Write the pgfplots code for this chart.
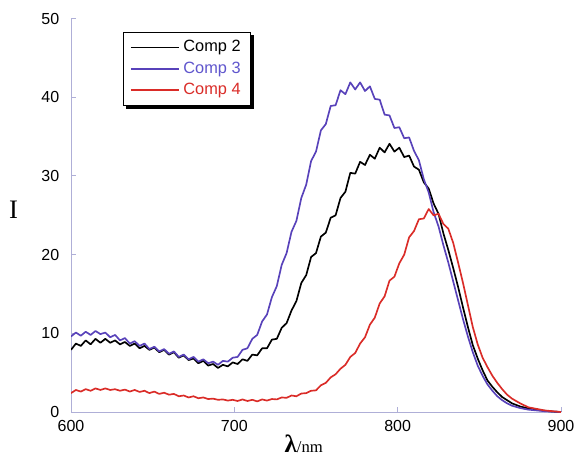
\documentclass[border=0pt]{standalone}
\usepackage{pgfplots}
\pgfplotsset{compat=1.18}
\usepackage{fontspec}
\setmainfont{Liberation Sans}
\newfontfamily\seriffont{Liberation Serif}
\definecolor{cblue}{RGB}{88,66,186}
\definecolor{cred}{RGB}{218,44,40}
\definecolor{caxis}{RGB}{175,175,215}
\definecolor{lblue}{RGB}{95,85,205}
\begin{document}
\begin{tikzpicture}
\begin{axis}[
  scale only axis,
  width=294pt, height=236pt,
  xmin=600, xmax=900, ymin=0, ymax=50,
  axis x line=bottom, axis y line=left,
  axis line style={-, draw=caxis, line width=0.6pt},
  xtick={600,700,800,900},
  ytick={0,10,20,30,40,50},
  tick align=inside,
  major tick length=3pt,
  tick style={draw=caxis, line width=0.6pt},
  ticklabel style={font=\fontsize{9.6}{11}\selectfont},
  /pgf/number format/assume math mode=true,
  yticklabel style={xshift=-3.5pt},
  xticklabel style={yshift=-1.5pt},
  xlabel={{\seriffont\fontsize{15}{16}\selectfont\bfseries λ}{\seriffont\fontsize{10}{12}\selectfont/nm}},
  xlabel style={at={(axis description cs:0.475,-0.058)}, anchor=north, inner sep=0pt},
  ylabel={{\seriffont\fontsize{16}{18}\selectfont I}},
  ylabel style={at={(axis description cs:-0.117,0.514)}, anchor=center, rotate=-90, inner sep=0pt},
  legend style={name=leg, at={(axis description cs:0.106,0.967)}, anchor=north west,
    draw=black, line width=0.6pt, fill=white,
    font=\fontsize{9.8}{10.5}\selectfont, row sep=0.5pt, inner xsep=4pt, inner ysep=3pt},
  legend cell align=left,
  legend image code/.code={\draw[#1, line width=1pt] (0pt,0pt) -- (29pt,0pt);},
  every axis plot/.append style={line width=1pt, line join=round},
]
\addplot[black] coordinates {
(600,7.9)(603,8.7)(606,8.4)(609,9.1)(612,8.6)(615,9.3)(618,8.8)(621,9.3)(624,8.8)(627,9.1)
(630,8.6)(633,8.9)(636,8.4)(639,8.7)(642,8.1)(645,8.4)(648,7.9)(651,8.2)(654,7.6)(657,7.9)
(660,7.3)(663,7.6)(666,6.9)(669,7.2)(672,6.6)(675,6.8)(678,6.2)(681,6.5)(684,5.9)(687,6.1)
(690,5.6)(693,6.0)(696,5.8)(699,6.3)(702,6.1)(705,6.7)(708,6.5)(711,7.3)(714,7.2)(717,8.1)
(720,8.1)(723,9.2)(726,9.3)(729,10.7)(732,11.3)(735,12.9)(738,14.1)(741,16.4)(744,17.4)(747,19.7)
(750,20.2)(753,22.3)(756,22.8)(759,24.7)(762,25.0)(765,27.2)(768,28.0)(771,30.4)(774,30.3)(777,31.8)
(780,31.4)(783,32.7)(786,32.2)(789,33.6)(792,33.0)(795,34.1)(798,33.1)(801,33.6)(804,32.4)(807,32.6)
(810,31.2)(813,30.8)(816,29.2)(819,28.4)(822,26.5)(825,25.2)(828,22.7)(831,20.6)(834,18.3)(837,15.9)
(840,13.3)(843,10.8)(846,8.5)(849,6.8)(852,5.3)(855,4.0)(858,3.2)(861,2.5)(864,1.9)(867,1.5)
(870,1.1)(875,0.7)(880,0.45)(885,0.3)(890,0.15)(895,0.05)(900,0)
};
\addlegendentry{Comp 2}
\addplot[cblue] coordinates {
(600,9.6)(603,10.1)(606,9.7)(609,10.2)(612,9.8)(615,10.3)(618,9.9)(621,10.1)(624,9.5)(627,9.8)
(630,9.1)(633,9.4)(636,8.7)(639,9.0)(642,8.4)(645,8.7)(648,8.0)(651,8.3)(654,7.7)(657,8.0)
(660,7.4)(663,7.7)(666,7.0)(669,7.3)(672,6.7)(675,7.0)(678,6.4)(681,6.7)(684,6.2)(687,6.4)
(690,6.0)(693,6.5)(696,6.4)(699,6.9)(702,7.0)(705,7.9)(708,8.1)(711,9.3)(714,9.8)(717,11.5)
(720,12.4)(723,14.6)(726,16.0)(729,18.7)(732,20.2)(735,22.9)(738,24.3)(741,27.2)(744,28.9)(747,31.9)
(750,33.1)(753,35.8)(756,36.6)(759,38.9)(762,39.0)(765,40.9)(768,40.4)(771,41.9)(774,41.0)(777,41.9)
(780,40.8)(783,41.4)(786,39.8)(789,39.7)(792,37.8)(795,37.7)(798,36.1)(801,36.2)(804,34.8)(807,34.9)
(810,33.2)(813,32.0)(816,29.6)(819,27.9)(822,25.4)(825,23.6)(828,21.2)(831,19.0)(834,16.6)(837,14.2)
(840,11.8)(843,9.6)(846,7.6)(849,5.9)(852,4.6)(855,3.5)(858,2.7)(861,2.0)(864,1.5)(867,1.1)
(870,0.8)(875,0.5)(880,0.3)(885,0.2)(890,0.1)(895,0.05)(900,0)
};
\addlegendentry{\textcolor{lblue}{Comp 3}}
\addplot[cred] coordinates {
(600,2.4)(603,2.8)(606,2.6)(609,2.9)(612,2.7)(615,3.0)(618,2.8)(621,3.0)(624,2.8)(627,2.9)
(630,2.7)(633,2.85)(636,2.6)(639,2.8)(642,2.55)(645,2.7)(648,2.4)(651,2.6)(654,2.3)(657,2.45)
(660,2.2)(663,2.3)(666,2.0)(669,2.1)(672,1.85)(675,2.0)(678,1.75)(681,1.85)(684,1.65)(687,1.7)
(690,1.55)(693,1.6)(696,1.45)(699,1.55)(702,1.4)(705,1.6)(708,1.4)(711,1.55)(714,1.35)(717,1.6)
(720,1.45)(723,1.65)(726,1.6)(729,1.85)(732,1.8)(735,2.1)(738,2.0)(741,2.35)(744,2.4)(747,2.7)
(750,2.75)(753,3.4)(756,3.7)(759,4.4)(762,4.8)(765,5.5)(768,6.0)(771,7.0)(774,7.5)(777,8.7)
(780,9.5)(783,11.1)(786,12.0)(789,13.8)(792,14.7)(795,16.7)(798,17.2)(801,18.9)(804,20.0)(807,22.2)
(810,23.0)(813,24.5)(816,24.6)(819,25.8)(822,25.0)(825,25.2)(828,23.9)(831,23.3)(834,21.5)(837,19.0)
(840,16.4)(843,13.6)(846,10.8)(849,8.6)(852,6.9)(855,5.7)(858,4.6)(861,3.7)(864,2.9)(867,2.2)
(870,1.7)(875,1.1)(880,0.6)(885,0.4)(890,0.2)(895,0.1)(900,0)
};
\addlegendentry{\textcolor{cred}{Comp 4}}
\coordinate (O) at (rel axis cs:0,0);
\end{axis}
\fill[black] ([shift={(1.8pt,-1.8pt)}]leg.south west) rectangle ([shift={(1.8pt,0pt)}]leg.south east);
\fill[black] ([shift={(0pt,-1.8pt)}]leg.north east) rectangle ([shift={(1.8pt,-1.8pt)}]leg.south east);
\pgfresetboundingbox
\path (O) ++(-42.6pt,-28.8pt) rectangle ++(345pt,276pt);
\end{tikzpicture}
\end{document}
